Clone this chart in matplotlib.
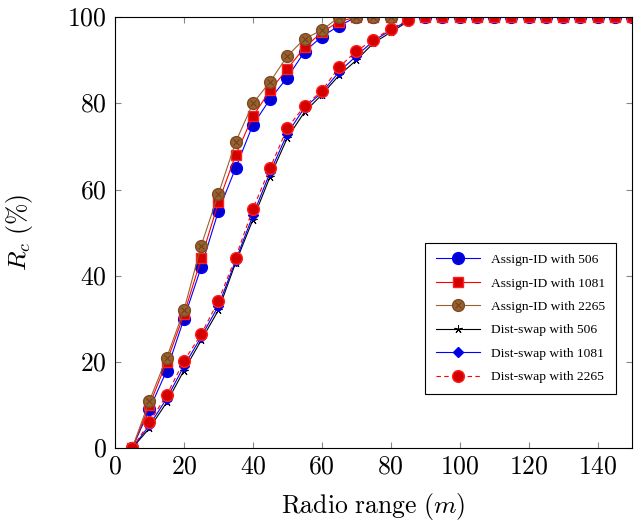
import matplotlib
matplotlib.use("Agg")
import matplotlib.pyplot as plt
from matplotlib.legend_handler import HandlerTuple

plt.rcParams['mathtext.fontset'] = 'cm'
plt.rcParams['font.family'] = 'Liberation Serif'

# DATA
x_full = [5, 10, 15, 20, 25, 30, 35, 40, 45, 50, 55, 60, 65, 70, 75, 80, 85, 90, 95, 100,
          105, 110, 115, 120, 125, 130, 135, 140, 145, 150]
x_short = [5, 10, 15, 20, 25, 30, 35, 40, 45, 50, 55, 60, 65, 70, 75, 80, 85]

assign_506 = [0, 9, 18, 30, 42, 55, 65, 75, 81, 86, 92, 95.5, 98, 100, 100, 100, 100, 100, 100, 100,
              100, 100, 100, 100, 100, 100, 100, 100, 100, 100]
assign_1081 = [0, 10, 20, 31, 44, 57, 68, 77, 83, 88, 93, 96.5, 99, 100, 100, 100, 100, 100, 100, 100,
               100, 100, 100, 100, 100, 100, 100, 100, 100, 100]
assign_2265 = [0, 11, 21, 32, 47, 59, 71, 80, 85, 91, 95, 97, 100, 100, 100, 100, 100]
dist_506 = [0, 4.6, 10.6, 18, 25, 32, 43, 53, 63, 72, 78, 82, 86.5, 90, 94, 96.5, 99]
dist_1081 = [0, 5.3, 11.5, 19, 25.8, 33, 43.5, 54, 64, 73, 79, 82.5, 87.3, 91, 94.5, 97, 99.2]
dist_2265 = [0, 6, 12.3, 20.2, 26.4, 34.2, 44.2, 55.5, 65, 74.3, 79.4, 82.9, 88.4, 92.1, 94.8, 97.3, 99.3]

xticks = [0, 20, 40, 60, 80, 100, 120, 140]
yticks = [0, 20, 40, 60, 80, 100]

brown = '#99612f'

fig = plt.figure(figsize=(6.39, 5.21), dpi=100)
ax = fig.add_axes([0.18, 0.14, 0.809, 0.827])

# assign-ID curves
l1, = ax.plot(x_full, assign_506, color='blue', lw=0.8, marker='o', ms=8.5,
              mfc='#0000d0', mec='#0000ff')
l2, = ax.plot(x_full, assign_1081, color='red', lw=0.8, marker='s', ms=7.5,
              mfc='#d40000', mec='#ff2020')
l3, = ax.plot(x_short, assign_2265, color=brown, lw=0.8, marker='o', ms=8.5,
              mfc=brown, mec='#7a4a22')
l3x, = ax.plot(x_short, assign_2265, ls='none', marker='x', ms=5, mew=0.7, mec='#6a3e1a')

# dist-swap curves
l4, = ax.plot(x_short, dist_506, color='black', lw=0.8, marker=(5, 2), ms=6, mew=0.7)
l5, = ax.plot(x_short, dist_1081, color='blue', lw=0.8, marker='D', ms=5,
              mfc='#0000d0', mec='#0000ff')
l6, = ax.plot(x_short, dist_2265, color='red', lw=0.8, ls=(0, (4, 3)), marker='o', ms=8.5,
              mfc='#d40000', mec='#ff2020')

ax.set_xlim(0, 150)
ax.set_ylim(0, 100)
ax.set_xticks(xticks)
ax.set_yticks(yticks)
ax.set_xticklabels([f'${t}$' for t in xticks], fontsize=18.5)
ax.set_yticklabels([f'${t}$' for t in yticks], fontsize=18.5)
ax.tick_params(direction='in', length=4, color='#888888', top=True, right=True, pad=6)
for s in ax.spines.values():
    s.set_linewidth(0.8)

ax.set_xlabel(r'$\mathrm{Radio\ range\ (}m\mathrm{)}$', fontsize=18.5)
ax.set_ylabel(r'$R_c\ \mathrm{(\%)}$', fontsize=18.5)
ax.xaxis.set_label_coords(0.5, -0.1)
ax.yaxis.set_label_coords(-0.155, 0.5)

leg = ax.legend([l1, l2, (l3, l3x), l4, l5, l6],
                ['Assign-ID with 506', 'Assign-ID with 1081', 'Assign-ID with 2265',
                 'Dist-swap with 506', 'Dist-swap with 1081', 'Dist-swap with 2265'],
                handler_map={tuple: HandlerTuple(ndivide=1, pad=0)},
                loc='lower right', bbox_to_anchor=(0.969, 0.125), borderaxespad=0,
                fontsize=9.7, fancybox=False, edgecolor='black', framealpha=1,
                handlelength=3.3, borderpad=0.8, labelspacing=0.82)
leg.get_frame().set_linewidth(0.8)

plt.savefig('out.png', dpi=100)
